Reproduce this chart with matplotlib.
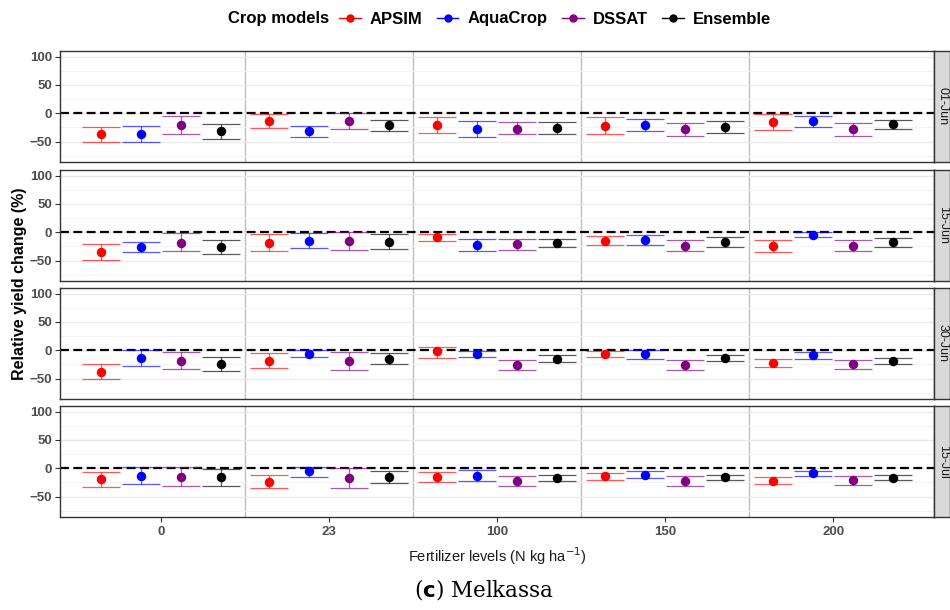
import numpy as np
import matplotlib.pyplot as plt
from matplotlib.lines import Line2D

# facets (sowing dates) and fertilizer levels
dates = ["01-Jun", "15-Jun", "30-Jun", "15-Jul"]
levels = ["0", "23", "100", "150", "200"]
models = ["APSIM", "AquaCrop", "DSSAT", "Ensemble"]
colors = ["#FF0000", "#0000FF", "#800080", "#000000"]

# rows = sowing dates, columns = fertilizer levels
apsim_mean = [[-37, -14, -21, -22, -16],
              [-35, -19, -9, -16, -25],
              [-38, -19, -2, -6, -23],
              [-19, -25, -15, -14, -22]]
apsim_lo = [[-51, -26, -35, -37, -30],
            [-49, -33, -16, -23, -35],
            [-51, -32, -13, -11, -30],
            [-33, -35, -25, -21, -28]]
apsim_hi = [[-24, -1, -7, -7, -1],
            [-20, -3, -3, -6, -13],
            [-25, -5, 6, -2, -15],
            [-6, -12, -7, -8, -16]]

aqua_mean = [[-37, -31, -28, -21, -14],
             [-26, -15, -22, -13, -5],
             [-13, -6, -6, -6, -9],
             [-13, -5, -13, -12, -8]]
aqua_lo = [[-51, -41, -42, -31, -24],
           [-35, -28, -33, -23, -9],
           [-27, -12, -11, -15, -15],
           [-28, -16, -22, -17, -14]]
aqua_hi = [[-23, -23, -14, -10, -5],
           [-17, -2, -12, -5, 0],
           [1, 0, -2, 1, -3],
           [2, 3, -3, -5, -5]]

dssat_mean = [[-21, -14, -27, -28, -28],
              [-19, -15, -21, -25, -25],
              [-19, -19, -26, -26, -24],
              [-15, -17, -22, -22, -21]]
dssat_lo = [[-37, -28, -37, -40, -40],
            [-33, -32, -32, -33, -33],
            [-33, -35, -35, -35, -33],
            [-32, -35, -32, -32, -30]]
dssat_hi = [[-5, 1, -15, -17, -17],
            [-2, 0, -12, -13, -13],
            [-3, -3, -17, -17, -17],
            [2, 0, -14, -14, -14]]

ens_mean = [[-32, -21, -26, -25, -19],
            [-26, -17, -19, -17, -17],
            [-24, -15, -15, -13, -19],
            [-15, -16, -18, -15, -17]]
ens_lo = [[-46, -32, -37, -35, -28],
          [-39, -30, -26, -26, -26],
          [-37, -24, -20, -19, -24],
          [-32, -26, -23, -20, -21]]
ens_hi = [[-19, -11, -15, -13, -11],
          [-13, -3, -12, -8, -10],
          [-12, -5, -9, -8, -14],
          [-1, -5, -12, -11, -12]]

means = [apsim_mean, aqua_mean, dssat_mean, ens_mean]
los = [apsim_lo, aqua_lo, dssat_lo, ens_lo]
his = [apsim_hi, aqua_hi, dssat_hi, ens_hi]

plt.rcParams['font.family'] = ['Liberation Sans', 'DejaVu Sans']

W, H = 950, 610
fig = plt.figure(figsize=(9.5, 6.1), dpi=100)

left_px, right_px = 60, 934
tops = [51, 170, 288, 406]
ph = 111
xc = np.arange(1, len(levels) + 1)
dodge = 0.238

for r, d in enumerate(dates):
    ax = fig.add_axes([left_px / W, 1 - (tops[r] + ph) / H,
                       (right_px - left_px) / W, ph / H])
    ax.set_xlim(0.4, 5.6)
    ax.set_ylim(-86, 110)
    ax.set_yticks([-50, 0, 50, 100])
    ax.set_yticks([-75, -25, 25, 75], minor=True)
    ax.grid(axis='y', which='major', color='#EBEBEB', lw=1.0, zorder=0)
    ax.grid(axis='y', which='minor', color='#F3F3F3', lw=0.6, zorder=0)
    for b in xc[:-1] + 0.5:
        ax.axvline(b, color='#BEBEBE', lw=1.0, zorder=1)
    ax.axhline(0, color='black', lw=1.6, dashes=(4, 2), zorder=2)

    for m in range(len(models)):
        xs = xc + (m - 1.5) * dodge
        y = np.array(means[m][r])
        lo = np.array(los[m][r])
        hi = np.array(his[m][r])
        ax.errorbar(xs, y, yerr=[y - lo, hi - y], fmt='none',
                    ecolor=colors[m], elinewidth=0.9, capsize=13.7,
                    capthick=0.9, alpha=0.65, zorder=3)
        ax.plot(xs, y, 'o', color=colors[m], markersize=5.8, zorder=4)

    for s in ax.spines.values():
        s.set_color('#333333')
        s.set_linewidth(1.0)
    ax.tick_params(axis='y', which='major', length=3.5, color='#333333',
                   labelsize=9.5, labelcolor='#4D4D4D', pad=2)
    ax.tick_params(axis='y', which='minor', length=0)
    for t in ax.get_yticklabels():
        t.set_fontweight('bold')
    ax.set_xticks(xc)
    if r == len(dates) - 1:
        ax.set_xticklabels(levels)
        ax.tick_params(axis='x', length=3.5, color='#333333', labelsize=9.5,
                       labelcolor='#4D4D4D', pad=3)
        for t in ax.get_xticklabels():
            t.set_fontweight('bold')
        ax.set_xlabel("Fertilizer levels (N kg ha$^{-1}$)", fontsize=10.5,
                      color='#1A1A1A', labelpad=5)
    else:
        ax.set_xticklabels([])
        ax.tick_params(axis='x', length=0)

    # facet strip on the right
    sx = fig.add_axes([right_px / W, 1 - (tops[r] + ph) / H,
                       (W - right_px) / W, ph / H])
    sx.set_facecolor('#D9D9D9')
    sx.set_xticks([])
    sx.set_yticks([])
    for s in sx.spines.values():
        s.set_color('#333333')
        s.set_linewidth(1.0)
    sx.text(0.55, 0.5, d, rotation=-90, ha='center', va='center',
            fontsize=9, color='#1A1A1A', transform=sx.transAxes)

fig.text(20 / W, 1 - 284 / H, "Relative yield change (%)", rotation=90,
         ha='center', va='center', fontsize=11.5, fontweight='bold')

# legend across the top
fig.text(329 / W, 1 - 19 / H, "Crop models", ha='right', va='center',
         fontsize=12, fontweight='bold')
handles = [Line2D([0], [0], color=c, marker='o', markersize=5, lw=1)
           for c in colors]
leg = fig.legend(handles, models, loc='center left', ncol=4,
                 bbox_to_anchor=(339 / W, 1 - 19 / H), frameon=False,
                 handlelength=1.3, handletextpad=0.55, columnspacing=0.85,
                 borderaxespad=0, borderpad=0,
                 prop={'size': 12, 'weight': 'bold'})

fig.text(484 / W, 1 - 590 / H, r"($\mathbf{c}$) Melkassa", ha='center',
         va='center', fontsize=15.5, family='DejaVu Serif')

fig.savefig("out.png", dpi=100)
